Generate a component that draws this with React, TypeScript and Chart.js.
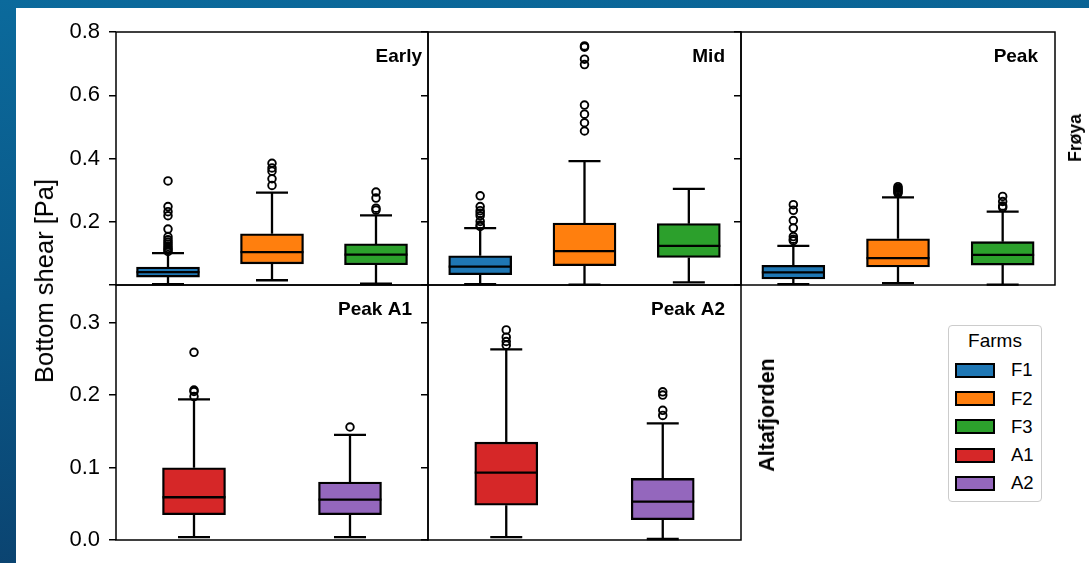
import React, { useEffect, useRef } from 'react';
import { Chart, registerables } from 'chart.js';

Chart.register(...registerables);

const FONT = '"Liberation Sans", Arial, Helvetica, sans-serif';
Chart.defaults.font.family = FONT;
Chart.defaults.color = '#000';

// Farms and their colours
const froyaFarms = ['F1', 'F2', 'F3'];
const altaFarms = ['A1', 'A2'];
const froyaColors = ['#1f77b4', '#ff7f0e', '#2ca02c'];
const altaColors = ['#d62728', '#9467bd'];
const legendFarms = ['F1', 'F2', 'F3', 'A1', 'A2'];
const legendColors = ['#1f77b4', '#ff7f0e', '#2ca02c', '#d62728', '#9467bd'];

// Y axis ticks per row
const froyaTicks = [0, 0.2, 0.4, 0.6, 0.8];
const altaTicks = [0, 0.1, 0.2, 0.3];
const froyaMax = 0.8;
const altaMax = 0.352;

// Early (Frøya)
const earlyLow = [0.003, 0.015, 0.004];
const earlyQ1 = [0.025, 0.067, 0.064];
const earlyMedian = [0.041, 0.104, 0.096];
const earlyQ3 = [0.057, 0.162, 0.13];
const earlyHigh = [0.101, 0.292, 0.22];
const earlyOutliers = [
  [0.329, 0.248, 0.232, 0.219, 0.177, 0.152, 0.143, 0.136, 0.129, 0.122, 0.116, 0.111, 0.106],
  [0.385, 0.37, 0.36, 0.336, 0.315],
  [0.294, 0.275, 0.243, 0.237],
];

// Mid (Frøya)
const midLow = [0.003, 0.001, 0.008];
const midQ1 = [0.0325, 0.061, 0.087];
const midMedian = [0.058, 0.107, 0.124];
const midQ3 = [0.0925, 0.196, 0.194];
const midHigh = [0.18, 0.392, 0.304];
const midOutliers = [
  [0.282, 0.248, 0.235, 0.227, 0.219, 0.201, 0.19, 0.185],
  [0.756, 0.752, 0.714, 0.697, 0.569, 0.54, 0.513, 0.487],
  [],
];

// Peak (Frøya)
const peakLow = [0.003, 0.006, 0.001];
const peakQ1 = [0.019, 0.057, 0.063];
const peakMedian = [0.04, 0.085, 0.095];
const peakQ3 = [0.062, 0.146, 0.137];
const peakHigh = [0.124, 0.277, 0.232];
const peakOutliers = [
  [0.254, 0.236, 0.204, 0.18, 0.153, 0.145, 0.14],
  [0.311, 0.306, 0.302, 0.298, 0.294, 0.29],
  [0.28, 0.264, 0.25, 0.245],
];

// Peak A1 (Altafjorden)
const peakA1Low = [0.004, 0.004];
const peakA1Q1 = [0.035, 0.035];
const peakA1Median = [0.059, 0.0556];
const peakA1Q3 = [0.0997, 0.08];
const peakA1High = [0.194, 0.145];
const peakA1Outliers = [
  [0.259, 0.207, 0.205, 0.198],
  [0.156],
];

// Peak A2 (Altafjorden)
const peakA2Low = [0.004, 0.0014];
const peakA2Q1 = [0.048, 0.028];
const peakA2Median = [0.093, 0.053];
const peakA2Q3 = [0.135, 0.085];
const peakA2High = [0.263, 0.161];
const peakA2Outliers = [
  [0.29, 0.28, 0.274, 0.269],
  [0.2046, 0.2, 0.179, 0.172],
];

type PanelSpec = {
  title: string;
  labels: string[];
  colors: string[];
  low: number[];
  q1: number[];
  median: number[];
  q3: number[];
  high: number[];
  outliers: number[][];
  yMax: number;
  ticks: number[];
  tickLabels: boolean;
  hideZeroLabel: boolean;
  left: number;
  top: number;
  width: number;
  height: number;
  titleInset: number;
};

const AXIS_W = 100;
const PAD = 16;
const BOX_W = 63;
const CAP_HALF = 16;
const LINE_W = 2.3;

function BoxPanel({ spec }: { spec: PanelSpec }) {
  const ref = useRef<HTMLCanvasElement>(null);

  useEffect(() => {
    const canvas = ref.current;
    if (!canvas) return;

    const boxLines = {
      id: 'boxLines',
      beforeDatasetsDraw(chart: any) {
        const { ctx } = chart;
        const xs = chart.scales.x;
        const ys = chart.scales.y;
        ctx.save();
        ctx.strokeStyle = '#000';
        ctx.lineWidth = LINE_W;
        spec.labels.forEach((_, i) => {
          const cx = xs.getPixelForValue(i);
          const yLo = ys.getPixelForValue(spec.low[i]);
          const yHi = ys.getPixelForValue(spec.high[i]);
          ctx.beginPath();
          ctx.moveTo(cx, ys.getPixelForValue(spec.q1[i]));
          ctx.lineTo(cx, yLo);
          ctx.moveTo(cx, ys.getPixelForValue(spec.q3[i]));
          ctx.lineTo(cx, yHi);
          ctx.moveTo(cx - CAP_HALF, yLo);
          ctx.lineTo(cx + CAP_HALF, yLo);
          ctx.moveTo(cx - CAP_HALF, yHi);
          ctx.lineTo(cx + CAP_HALF, yHi);
          ctx.stroke();
        });
        ctx.restore();
      },
      afterDatasetsDraw(chart: any) {
        const { ctx, chartArea } = chart;
        const xs = chart.scales.x;
        const ys = chart.scales.y;
        ctx.save();
        // medians
        ctx.strokeStyle = '#000';
        ctx.lineWidth = LINE_W;
        spec.labels.forEach((_, i) => {
          const cx = xs.getPixelForValue(i);
          const ym = ys.getPixelForValue(spec.median[i]);
          ctx.beginPath();
          ctx.moveTo(cx - BOX_W / 2, ym);
          ctx.lineTo(cx + BOX_W / 2, ym);
          ctx.stroke();
        });
        // panel frame
        ctx.lineWidth = 1.5;
        ctx.strokeRect(
          chartArea.left,
          chartArea.top,
          chartArea.right - chartArea.left,
          chartArea.bottom - chartArea.top
        );
        // panel title
        ctx.fillStyle = '#000';
        ctx.font = `bold 19px ${FONT}`;
        ctx.textAlign = 'right';
        ctx.textBaseline = 'alphabetic';
        ctx.fillText(spec.title, chartArea.right - spec.titleInset, chartArea.top + 30);
        ctx.restore();
      },
    };

    const outlierPoints = spec.outliers.flatMap((vals, i) =>
      vals.map((v) => ({ x: spec.labels[i], y: v }))
    );

    const chart = new Chart(canvas, {
      type: 'bar',
      data: {
        labels: spec.labels,
        datasets: [
          {
            type: 'bar',
            data: spec.q1.map((v, i) => [v, spec.q3[i]]) as any,
            backgroundColor: spec.colors,
            borderColor: '#000',
            borderWidth: LINE_W,
            borderSkipped: false,
            barThickness: BOX_W,
          },
          {
            type: 'scatter',
            data: outlierPoints as any,
            pointRadius: 3.8,
            pointBorderWidth: 1.9,
            pointBorderColor: '#000',
            pointBackgroundColor: 'rgba(0,0,0,0)',
            showLine: false,
          } as any,
        ],
      },
      options: {
        animation: false,
        responsive: false,
        events: [],
        layout: { padding: { left: 0, top: PAD, right: PAD, bottom: PAD } },
        plugins: {
          legend: { display: false },
          tooltip: { enabled: false },
        },
        scales: {
          x: {
            type: 'category',
            display: false,
            offset: true,
          },
          y: {
            type: 'linear',
            min: 0,
            max: spec.yMax,
            afterFit: (s: any) => {
              s.width = AXIS_W;
              s.paddingTop = 0;
              s.paddingBottom = 0;
            },
            afterBuildTicks: (s: any) => {
              s.ticks = spec.ticks.map((v) => ({ value: v }));
            },
            grid: {
              display: true,
              drawOnChartArea: false,
              drawTicks: true,
              tickLength: 7,
              color: '#000',
              lineWidth: 1.5,
            },
            border: { display: false },
            ticks: {
              padding: 9,
              color: '#000',
              font: { size: 22, family: FONT },
              callback: (v: any) => {
                const n = Number(v);
                if (!spec.tickLabels) return '';
                if (spec.hideZeroLabel && n === 0) return '';
                return n.toFixed(1);
              },
            },
          },
        },
      },
      plugins: [boxLines],
    });

    return () => chart.destroy();
  }, [spec]);

  return (
    <canvas
      ref={ref}
      width={AXIS_W + spec.width + PAD}
      height={spec.height + 2 * PAD}
      style={{
        position: 'absolute',
        left: spec.left - AXIS_W,
        top: spec.top - PAD,
      }}
    />
  );
}

const panels: PanelSpec[] = [
  {
    title: 'Early', labels: froyaFarms, colors: froyaColors,
    low: earlyLow, q1: earlyQ1, median: earlyMedian, q3: earlyQ3, high: earlyHigh, outliers: earlyOutliers,
    yMax: froyaMax, ticks: froyaTicks, tickLabels: true, hideZeroLabel: true,
    left: 116, top: 32, width: 312, height: 253, titleInset: 6,
  },
  {
    title: 'Mid', labels: froyaFarms, colors: froyaColors,
    low: midLow, q1: midQ1, median: midMedian, q3: midQ3, high: midHigh, outliers: midOutliers,
    yMax: froyaMax, ticks: froyaTicks, tickLabels: false, hideZeroLabel: true,
    left: 428, top: 32, width: 313, height: 253, titleInset: 16,
  },
  {
    title: 'Peak', labels: froyaFarms, colors: froyaColors,
    low: peakLow, q1: peakQ1, median: peakMedian, q3: peakQ3, high: peakHigh, outliers: peakOutliers,
    yMax: froyaMax, ticks: froyaTicks, tickLabels: false, hideZeroLabel: true,
    left: 741, top: 32, width: 314, height: 253, titleInset: 17,
  },
  {
    title: 'Peak A1', labels: altaFarms, colors: altaColors,
    low: peakA1Low, q1: peakA1Q1, median: peakA1Median, q3: peakA1Q3, high: peakA1High, outliers: peakA1Outliers,
    yMax: altaMax, ticks: altaTicks, tickLabels: true, hideZeroLabel: false,
    left: 116, top: 285, width: 312, height: 255, titleInset: 16,
  },
  {
    title: 'Peak A2', labels: altaFarms, colors: altaColors,
    low: peakA2Low, q1: peakA2Q1, median: peakA2Median, q3: peakA2Q3, high: peakA2High, outliers: peakA2Outliers,
    yMax: altaMax, ticks: altaTicks, tickLabels: false, hideZeroLabel: false,
    left: 428, top: 285, width: 313, height: 255, titleInset: 16,
  },
];

export default function App() {
  return (
    <div
      style={{
        position: 'fixed',
        left: 0,
        top: 0,
        width: 1089,
        height: 563,
        overflow: 'hidden',
        background: 'linear-gradient(175deg, #0b6a9c 0%, #0a5888 45%, #0b3d69 100%)',
        fontFamily: FONT,
        color: '#000',
      }}
    >
      <div
        style={{
          position: 'absolute',
          left: 16,
          top: 8,
          right: 0,
          bottom: 0,
          background: '#fff',
        }}
      />
      {panels.map((p) => (
        <BoxPanel key={p.title} spec={p} />
      ))}

      {/* shared y-axis label */}
      <div
        style={{
          position: 'absolute',
          left: 44,
          top: 281,
          transform: 'translate(-50%, -50%) rotate(-90deg)',
          whiteSpace: 'nowrap',
          fontSize: 25.5,
          lineHeight: '28px',
        }}
      >
        Bottom shear [Pa]
      </div>

      {/* row labels */}
      <div
        style={{
          position: 'absolute',
          left: 1075,
          top: 137.5,
          transform: 'translate(-50%, -50%) rotate(-90deg)',
          whiteSpace: 'nowrap',
          fontSize: 17.5,
          fontWeight: 'bold',
          lineHeight: '20px',
        }}
      >
        Frøya
      </div>
      <div
        style={{
          position: 'absolute',
          left: 766.5,
          top: 415,
          transform: 'translate(-50%, -50%) rotate(-90deg)',
          whiteSpace: 'nowrap',
          fontSize: 21.5,
          fontWeight: 'bold',
          lineHeight: '24px',
        }}
      >
        Altafjorden
      </div>

      {/* legend */}
      <div
        style={{
          position: 'absolute',
          left: 948,
          top: 325,
          width: 94,
          height: 177,
          border: '1.5px solid #cccccc',
          borderRadius: 4,
          background: '#fff',
          boxSizing: 'border-box',
        }}
      >
        <div
          style={{
            position: 'absolute',
            left: 0,
            right: 0,
            top: 4,
            textAlign: 'center',
            fontSize: 19,
            lineHeight: '22px',
          }}
        >
          Farms
        </div>
        {legendFarms.map((f, i) => (
          <React.Fragment key={f}>
            <div
              style={{
                position: 'absolute',
                left: 5.5,
                top: 36.8 + i * 28.3,
                width: 40,
                height: 15,
                background: legendColors[i],
                border: '2px solid #000',
                boxSizing: 'border-box',
              }}
            />
            <div
              style={{
                position: 'absolute',
                left: 62,
                top: 34.2 + i * 28.3,
                fontSize: 18.5,
                lineHeight: '20px',
                whiteSpace: 'nowrap',
              }}
            >
              {f}
            </div>
          </React.Fragment>
        ))}
      </div>
    </div>
  );
}
